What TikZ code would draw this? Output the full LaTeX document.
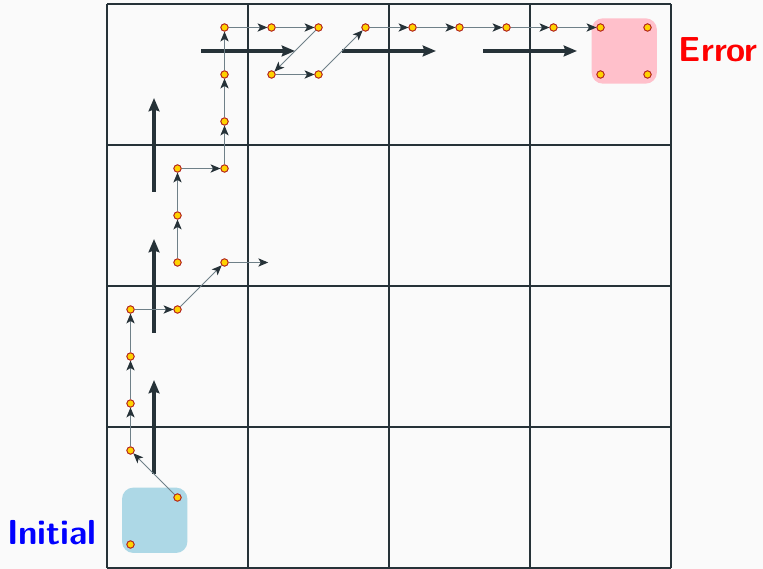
\documentclass[tikz,border=0pt]{standalone}
\usepackage{fontspec}
\usetikzlibrary{arrows.meta}
\definecolor{dark}{HTML}{263238}
\definecolor{thin}{HTML}{6F8088}
\definecolor{pagebg}{HTML}{FAFAFA}
\definecolor{ptfill}{HTML}{FFD200}
\definecolor{ptdraw}{HTML}{B22222}
\definecolor{initcol}{HTML}{ADD8E6}
\definecolor{errcol}{HTML}{FFC0CB}
\begin{document}
\begin{tikzpicture}[x=1cm,y=1cm,
  pt/.style={circle,fill=ptfill,draw=ptdraw,line width=0.5pt,inner sep=0pt,minimum size=4.4pt},
  trans/.style={-{Stealth[length=6pt,width=5pt,inset=1.5pt,color=dark]},draw=thin,line width=0.6pt},
  abstr/.style={-{Stealth[length=8pt,width=6.5pt,inset=1pt]},draw=dark,line width=2pt},
  gridline/.style={draw=dark,line width=1.3pt},
  regbox/.style={rounded corners=0.24cm,minimum size=1.39cm,inner sep=0pt},
  lbl/.style={font=\fontsize{21}{25}\selectfont\sffamily\bfseries,inner sep=0pt}]
\useasboundingbox (-2.777,-0.521) rectangle (13.457,11.585);
\fill[pagebg] (-2.777,-0.521) rectangle (13.457,11.585);
% grid
\foreach \k in {0,...,4}{
  \draw[gridline] (-0.5+3*\k,-0.5) -- (-0.5+3*\k,11.5);
  \draw[gridline] (-0.5,-0.5+3*\k) -- (11.5,-0.5+3*\k);
}
% regions
\node[regbox,fill=initcol] (init) at (0.515,0.515) {};
\node[regbox,fill=errcol] (err) at (10.505,10.5) {};
\node[lbl,text=blue,anchor=base east] (initlbl) at (-0.71,0) {Initial};
\node[lbl,text=red,anchor=base west] (errlbl) at (11.66,10.27) {Error};
% abstract transitions
\coordinate (a1s) at (0.5,1.5); \coordinate (a1e) at (0.5,3.5);
\coordinate (a2s) at (0.5,4.5); \coordinate (a2e) at (0.5,6.5);
\coordinate (a3s) at (0.5,7.5); \coordinate (a3e) at (0.5,9.5);
\coordinate (a4s) at (1.5,10.5); \coordinate (a4e) at (3.5,10.5);
\coordinate (a5s) at (4.5,10.5); \coordinate (a5e) at (6.5,10.5);
\coordinate (a6s) at (7.5,10.5); \coordinate (a6e) at (9.5,10.5);
\foreach \n in {1,...,6}{\draw[abstr] (a\n s) -- (a\n e);}
% points
\foreach \x/\y in {0/0,1/1,0/2,0/3,0/4,0/5,1/5,2/6,1/6,1/7,1/8,2/8,2/9,2/10,2/11,3/11,4/11,3/10,4/10,5/11,6/11,7/11,8/11,9/11,10/11,11/11,10/10,11/10}{
  \node[pt] (p\x-\y) at (\x,\y) {};
}
\coordinate (free) at (2.93,6);
% concrete transitions
\foreach \a/\b in {1-1/0-2,0-2/0-3,0-3/0-4,0-4/0-5,0-5/1-5,1-5/2-6,
  1-6/1-7,1-7/1-8,1-8/2-8,2-8/2-9,2-9/2-10,2-10/2-11,2-11/3-11,3-11/4-11,
  4-11/3-10,3-10/4-10,4-10/5-11,5-11/6-11,6-11/7-11,7-11/8-11,8-11/9-11,9-11/10-11}{
  \draw[trans] (p\a) -- (p\b);
}
\draw[trans] (p2-6) -- (free);
% redraw points on top
\foreach \x/\y in {0/0,1/1,0/2,0/3,0/4,0/5,1/5,2/6,1/6,1/7,1/8,2/8,2/9,2/10,2/11,3/11,4/11,3/10,4/10,5/11,6/11,7/11,8/11,9/11,10/11,11/11,10/10,11/10}{
  \node[pt] at (p\x-\y) {};
}
\end{tikzpicture}
\end{document}
